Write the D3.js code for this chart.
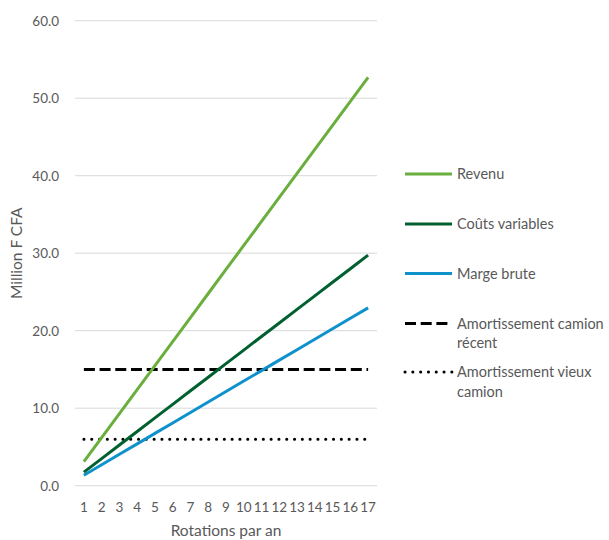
<!DOCTYPE html>
<html>
<head>
<meta charset="utf-8">
<script src="https://cdn.jsdelivr.net/npm/d3@7"></script>
<style>
  body { margin: 0; background: #fff; }
  text { font-family: Lato, "Open Sans", sans-serif; fill: #595959; }
</style>
</head>
<body>
<svg id="chart" width="609" height="540"></svg>
<script>
const rotations = [1, 2, 3, 4, 5, 6, 7, 8, 9, 10, 11, 12, 13, 14, 15, 16, 17];
const revenu = [3.1, 6.2, 9.3, 12.4, 15.5, 18.6, 21.7, 24.8, 27.9, 31.0, 34.1, 37.2, 40.3, 43.4, 46.5, 49.6, 52.7];
const coutsVariables = [1.75, 3.5, 5.25, 7.0, 8.75, 10.5, 12.25, 14.0, 15.75, 17.5, 19.25, 21.0, 22.75, 24.5, 26.25, 28.0, 29.75];
const margeBrute = [1.35, 2.7, 4.05, 5.4, 6.75, 8.1, 9.45, 10.8, 12.15, 13.5, 14.85, 16.2, 17.55, 18.9, 20.25, 21.6, 22.95];
const amortRecent = [15, 15, 15, 15, 15, 15, 15, 15, 15, 15, 15, 15, 15, 15, 15, 15, 15];
const amortVieux = [6, 6, 6, 6, 6, 6, 6, 6, 6, 6, 6, 6, 6, 6, 6, 6, 6];
const yTicks = [0, 10, 20, 30, 40, 50, 60];

const series = [
  { name: ["Revenu"], values: revenu, color: "#6aaf3d", dash: null, cap: "butt" },
  { name: ["Coûts variables"], values: coutsVariables, color: "#00602f", dash: null, cap: "butt" },
  { name: ["Marge brute"], values: margeBrute, color: "#0f92cc", dash: null, cap: "butt" },
  { name: ["Amortissement camion", "récent"], values: amortRecent, color: "#000", dash: "11,4.7", cap: "butt" },
  { name: ["Amortissement vieux", "camion"], values: amortVieux, color: "#000", dash: "0.1,7.7", cap: "round" }
];

const svg = d3.select("#chart");
const plot = { left: 75, right: 377, top: 20.7, bottom: 485.7 };

const x = d3.scaleBand().domain(rotations).range([plot.left, plot.right]);
const y = d3.scaleLinear().domain([0, 60]).range([plot.bottom, plot.top]);

// gridlines
svg.append("g")
  .selectAll("line")
  .data(yTicks)
  .join("line")
  .attr("x1", plot.left)
  .attr("x2", plot.right)
  .attr("y1", d => y(d))
  .attr("y2", d => y(d))
  .attr("stroke", "#d9d9d9")
  .attr("stroke-width", 1);

// y axis labels
const yAxis = svg.append("g")
  .attr("transform", `translate(${plot.left - 13},0)`)
  .call(d3.axisLeft(y).tickValues(yTicks).tickFormat(d3.format(".1f")).tickSize(0));
yAxis.select(".domain").remove();
yAxis.selectAll("text").attr("font-size", 13.5).attr("fill", "#595959").attr("font-family", null);

// x axis labels
const xAxis = svg.append("g")
  .attr("transform", `translate(0,${plot.bottom + 14})`)
  .call(d3.axisBottom(x).tickSize(0));
xAxis.select(".domain").remove();
xAxis.selectAll("text").attr("font-size", 13.5).attr("fill", "#595959").attr("font-family", null);

// axis titles
svg.append("text")
  .attr("transform", `translate(22,${(plot.top + plot.bottom) / 2}) rotate(-90)`)
  .attr("text-anchor", "middle")
  .attr("font-size", 15.5)
  .text("Million F CFA");

svg.append("text")
  .attr("x", (plot.left + plot.right) / 2)
  .attr("y", 536)
  .attr("text-anchor", "middle")
  .attr("font-size", 15.5)
  .text("Rotations par an");

// lines
const line = d3.line()
  .x((d, i) => x(rotations[i]) + x.bandwidth() / 2)
  .y(d => y(d));

svg.append("g")
  .selectAll("path")
  .data(series.slice().reverse())
  .join("path")
  .attr("d", d => line(d.values))
  .attr("fill", "none")
  .attr("stroke", d => d.color)
  .attr("stroke-width", 3)
  .attr("stroke-dasharray", d => d.dash)
  .attr("stroke-linecap", d => d.cap);

// legend
const legendY = [174, 224, 273.5, 323.5, 372];
const legend = svg.append("g")
  .selectAll("g")
  .data(series)
  .join("g")
  .attr("transform", (d, i) => `translate(405,${legendY[i]})`);

legend.append("line")
  .attr("x1", 0)
  .attr("x2", 47)
  .attr("stroke", d => d.color)
  .attr("stroke-width", 3)
  .attr("stroke-dasharray", d => d.dash)
  .attr("stroke-linecap", d => d.cap);

legend.append("text")
  .attr("x", 52)
  .attr("font-size", 14.5)
  .selectAll("tspan")
  .data(d => d.name)
  .join("tspan")
  .attr("x", 52)
  .attr("dy", (d, i) => i === 0 ? "0.35em" : "1.35em")
  .text(d => d);
</script>
</body>
</html>
